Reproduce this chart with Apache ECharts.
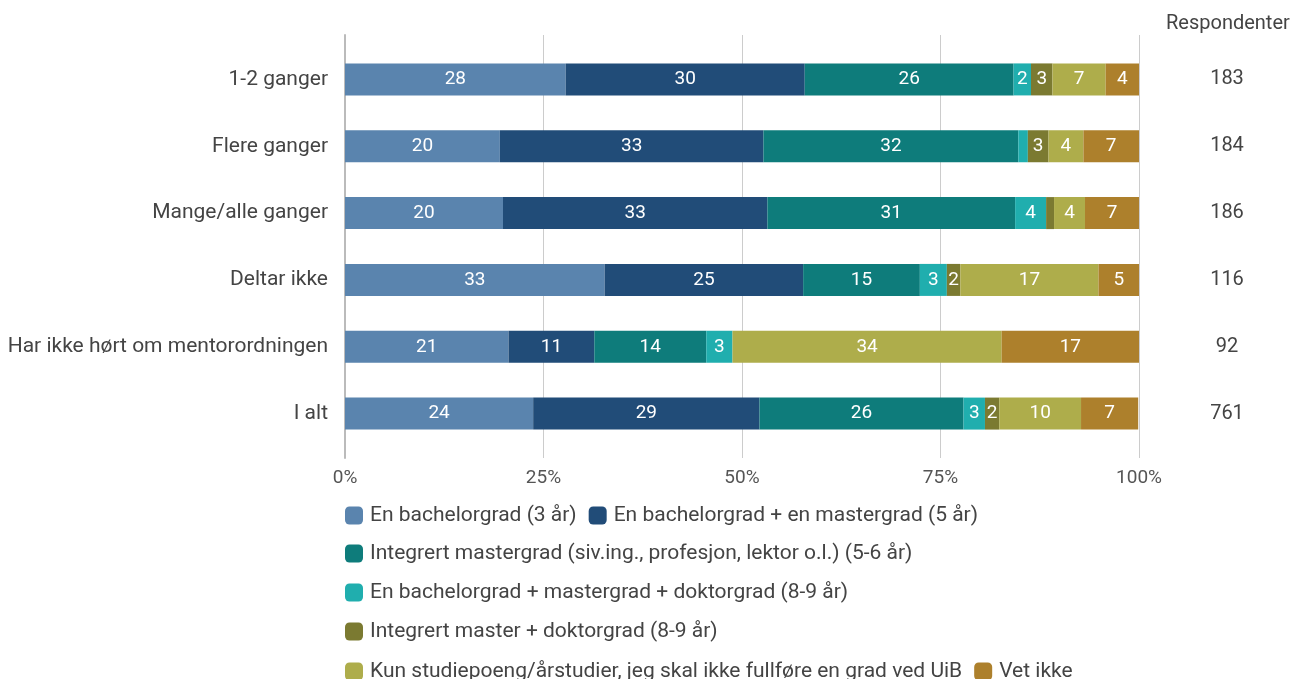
<!DOCTYPE html>
<html lang="no">
<head>
  <meta charset="utf-8">
  <title>Mentorordningen - grad</title>
  <style>
    html, body { margin: 0; padding: 0; background: #fff; }
    #chart { width: 1294px; height: 679px; }
  </style>
</head>
<body>
  <div id="chart"></div>
  <script src="https://cdn.jsdelivr.net/npm/echarts@6/dist/echarts.min.js"></script>
  <script>
    // kategorier (ovenfra og ned)
    var categories = ['1-2 ganger', 'Flere ganger', 'Mange/alle ganger', 'Deltar ikke', 'Har ikke hørt om mentorordningen', 'I alt'];
    var respondenter = [183, 184, 186, 116, 92, 761];
    var tickLabels = ['0%', '25%', '50%', '75%', '100%'];

    // andeler i prosent per serie
    var bachelor = [27.8, 19.5, 19.9, 32.7, 20.6, 23.7];
    var bachelorMaster = [30.1, 33.2, 33.3, 25.0, 10.8, 28.5];
    var integrertMaster = [26.3, 32.1, 31.2, 14.7, 14.1, 25.7];
    var bachMasterDoktor = [2.2, 1.2, 3.9, 3.4, 3.3, 2.7];
    var integrertDoktor = [2.7, 2.6, 1.0, 1.7, 0, 1.8];
    var kunStudiepoeng = [6.7, 4.4, 3.9, 17.4, 33.9, 10.3];
    var vetIkke = [4.2, 7.0, 6.8, 5.1, 17.3, 7.2];

    var names = [
      'En bachelorgrad (3 år)',
      'En bachelorgrad + en mastergrad (5 år)',
      'Integrert mastergrad (siv.ing., profesjon, lektor o.l.) (5-6 år)',
      'En bachelorgrad + mastergrad + doktorgrad (8-9 år)',
      'Integrert master + doktorgrad (8-9 år)',
      'Kun studiepoeng/årstudier, jeg skal ikke fullføre en grad ved UiB',
      'Vet ikke'
    ];
    var values = [bachelor, bachelorMaster, integrertMaster, bachMasterDoktor, integrertDoktor, kunStudiepoeng, vetIkke];
    var colors = ['#5a84ae', '#214c78', '#0e7c7b', '#20aeae', '#7b7a31', '#aead4b', '#ad802c'];

    var font = 'Roboto, "Noto Sans", sans-serif';
    var chart = echarts.init(document.getElementById('chart'));

    var series = names.map(function (n, i) {
      return {
        name: n,
        type: 'bar',
        stack: 'tot',
        xAxisIndex: 1,
        yAxisIndex: 1,
        barWidth: 32,
        itemStyle: { color: colors[i] },
        label: {
          show: true,
          color: '#fff',
          fontFamily: font,
          fontSize: 19,
          formatter: function (p) {
            return p.value >= 1.5 ? Math.round(p.value) : '';
          }
        },
        emphasis: { disabled: true },
        data: values[i]
      };
    });

    function legendRow(data, top) {
      return {
        data: data,
        left: 340,
        top: top,
        icon: 'roundRect',
        itemWidth: 18,
        itemHeight: 18,
        itemGap: 12,
        selectedMode: false,
        textStyle: { fontFamily: font, fontSize: 21, color: '#444', padding: [0, 0, 0, 2] }
      };
    }

    var option = {
      animation: false,
      color: colors,
      title: {
        text: 'Respondenter',
        left: 1161,
        top: 9,
        textStyle: { fontFamily: font, fontSize: 20, fontWeight: 'normal', color: '#444' }
      },
      legend: [
        legendRow([names[0], names[1]], 500),
        legendRow([names[2]], 538),
        legendRow([names[3]], 577),
        legendRow([names[4]], 616),
        legendRow([names[5], names[6]], 656)
      ],
      grid: [
        { left: 345, right: 155, top: 35, bottom: 221 },
        { left: 345, right: 155, top: 46, height: 401 }
      ],
      xAxis: [
        {
          gridIndex: 0,
          type: 'value',
          min: 0,
          max: 100,
          interval: 25,
          axisLine: { show: false },
          axisTick: { show: false },
          splitLine: { lineStyle: { color: '#cccccc', width: 1 } },
          axisLabel: {
            fontFamily: font,
            fontSize: 19,
            color: '#555',
            margin: 11,
            formatter: function (v) { return tickLabels[v / 25]; }
          }
        },
        {
          gridIndex: 1,
          type: 'value',
          min: 0,
          max: 100,
          show: false
        }
      ],
      yAxis: [
        {
          gridIndex: 0,
          type: 'value',
          axisLine: { show: true, lineStyle: { color: '#bbbbbb', width: 2 } },
          axisTick: { show: false },
          axisLabel: { show: false },
          splitLine: { show: false }
        },
        {
          gridIndex: 1,
          type: 'category',
          inverse: true,
          data: categories,
          axisLine: { show: false },
          axisTick: { show: false },
          axisLabel: { fontFamily: font, fontSize: 21, color: '#444', margin: 17 }
        },
        {
          gridIndex: 1,
          type: 'category',
          inverse: true,
          position: 'right',
          data: respondenter,
          axisLine: { show: false },
          axisTick: { show: false },
          axisLabel: { fontFamily: font, fontSize: 20, color: '#444', align: 'center', margin: 88 }
        }
      ],
      series: series
    };
    chart.setOption(option);
  </script>
</body>
</html>
